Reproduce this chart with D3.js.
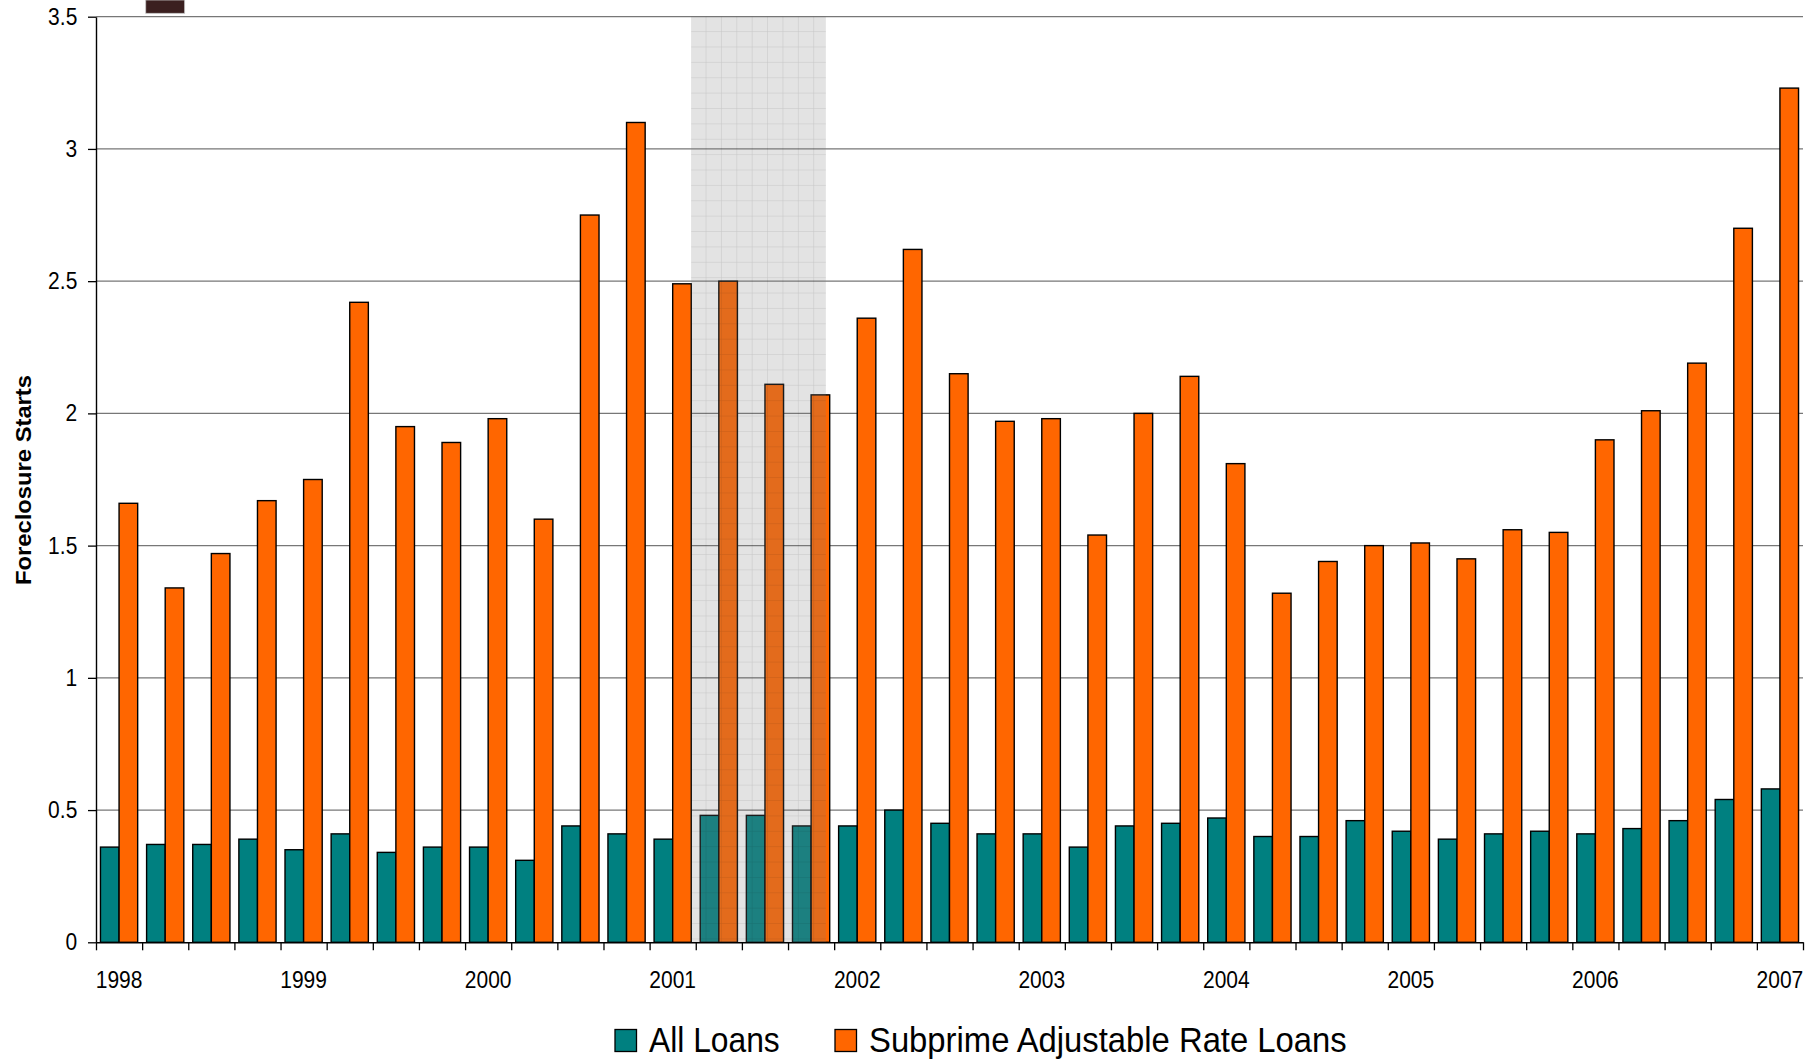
<!DOCTYPE html>
<html>
<head>
<meta charset="utf-8">
<script src="https://cdn.jsdelivr.net/npm/d3@7"></script>
<style>
  html, body { margin: 0; padding: 0; background: #fff; }
  svg { display: block; font-family: "Liberation Sans", Arial, Helvetica, sans-serif; }
</style>
</head>
<body>
<svg id="chart" width="1820" height="1060"></svg>
<script>
// ---- Data: quarterly foreclosure starts (percent of loans) ----
const quarters = [
  "1998Q1","1998Q2","1998Q3","1998Q4",
  "1999Q1","1999Q2","1999Q3","1999Q4",
  "2000Q1","2000Q2","2000Q3","2000Q4",
  "2001Q1","2001Q2","2001Q3","2001Q4",
  "2002Q1","2002Q2","2002Q3","2002Q4",
  "2003Q1","2003Q2","2003Q3","2003Q4",
  "2004Q1","2004Q2","2004Q3","2004Q4",
  "2005Q1","2005Q2","2005Q3","2005Q4",
  "2006Q1","2006Q2","2006Q3","2006Q4",
  "2007Q1"
];

const allLoans = [
  0.36, 0.37, 0.37, 0.39,
  0.35, 0.41, 0.34, 0.36,
  0.36, 0.31, 0.44, 0.41,
  0.39, 0.48, 0.48, 0.44,
  0.44, 0.50, 0.45, 0.41,
  0.41, 0.36, 0.44, 0.45,
  0.47, 0.40, 0.40, 0.46,
  0.42, 0.39, 0.41, 0.42,
  0.41, 0.43, 0.46, 0.54,
  0.58
];

const subprimeARM = [
  1.66, 1.34, 1.47, 1.67,
  1.75, 2.42, 1.95, 1.89,
  1.98, 1.60, 2.75, 3.10,
  2.49, 2.50, 2.11, 2.07,
  2.36, 2.62, 2.15, 1.97,
  1.98, 1.54, 2.00, 2.14,
  1.81, 1.32, 1.44, 1.50,
  1.51, 1.45, 1.56, 1.55,
  1.90, 2.01, 2.19, 2.70,
  3.23
];

const yTicks = [0, 0.5, 1, 1.5, 2, 2.5, 3, 3.5];
const yearLabels = ["1998","1999","2000","2001","2002","2003","2004","2005","2006","2007"];

// Recession span (March–November 2001) in quarter-index units
const recessionStart = 12.9;
const recessionEnd = 15.82;

const seriesNames = ["All Loans", "Subprime Adjustable Rate Loans"];
const seriesColors = ["#008080", "#FF6600"];

// ---- Layout ----
const plot = { left: 96, right: 1803, top: 16.7, bottom: 942.3 };

const svg = d3.select("#chart");
const defs = svg.append("defs");

const x = d3.scaleBand().domain(quarters).range([plot.left, plot.right]).padding(0);
const xq = d3.scaleLinear().domain([0, quarters.length]).range([plot.left, plot.right]);
const xs = d3.scaleBand().domain([0, 1]).range([0, x.bandwidth()]).paddingInner(0).paddingOuter(0.24);
const y = d3.scaleLinear().domain([0, 3.5]).range([plot.bottom, plot.top]);

// vertical stretch for text, anchored at the text's own y
function stretchY(sel, k) {
  sel.each(function () {
    const t = d3.select(this);
    const yy = +t.attr("y") || 0;
    t.attr("transform", `translate(0,${yy}) scale(1,${k}) translate(0,${-yy})`);
  });
}

// ---- Horizontal gridlines ----
svg.append("g")
  .selectAll("line")
  .data(yTicks.filter(d => d > 0))
  .join("line")
  .attr("x1", plot.left)
  .attr("x2", plot.right)
  .attr("y1", d => y(d))
  .attr("y2", d => y(d))
  .attr("stroke", "#777")
  .attr("stroke-width", 1.3);

// ---- Bars ----
const rows = quarters.map((q, i) => ({ q, vals: [allLoans[i], subprimeARM[i]] }));

const groups = svg.append("g")
  .selectAll("g")
  .data(rows)
  .join("g")
  .attr("transform", d => `translate(${x(d.q)},0)`);

groups.selectAll("rect")
  .data(d => d.vals.map((v, k) => ({ v, k })))
  .join("rect")
  .attr("x", d => xs(d.k))
  .attr("width", xs.bandwidth())
  .attr("y", d => y(d.v))
  .attr("height", d => y(0) - y(d.v))
  .attr("fill", d => seriesColors[d.k])
  .attr("stroke", "#000")
  .attr("stroke-width", 1.4);

// ---- Recession shading with fine grid texture ----
const cell = x.bandwidth() / 3;
const pat = defs.append("pattern")
  .attr("id", "recGrid")
  .attr("patternUnits", "userSpaceOnUse")
  .attr("x", xq(recessionStart))
  .attr("y", plot.top)
  .attr("width", cell)
  .attr("height", cell);
pat.append("path")
  .attr("d", `M${cell},0V${cell}M0,${cell}H${cell}`)
  .attr("stroke", "rgba(0,0,0,0.13)")
  .attr("stroke-width", 1)
  .attr("fill", "none");

const recX = xq(recessionStart), recW = xq(recessionEnd) - xq(recessionStart);
svg.append("rect")
  .attr("x", recX).attr("width", recW)
  .attr("y", y(3.5)).attr("height", y(0) - y(3.5))
  .attr("fill", "rgb(128,128,128)")
  .attr("fill-opacity", 0.22);
svg.append("rect")
  .attr("x", recX).attr("width", recW)
  .attr("y", y(3.5)).attr("height", y(0) - y(3.5))
  .attr("fill", "url(#recGrid)");

// ---- Small dark block above the first year ----
svg.append("rect")
  .attr("x", x(quarters[1]) + 3.6)
  .attr("width", x.bandwidth() - 7.2)
  .attr("y", 0)
  .attr("height", plot.top - 3.4)
  .attr("fill", "#3b2020")
  .attr("stroke", "#c8c8c8")
  .attr("stroke-width", 0.8);

// ---- Y axis ----
const yAxis = svg.append("g")
  .attr("transform", `translate(${plot.left},0)`)
  .call(d3.axisLeft(y).tickValues(yTicks).tickSize(8).tickSizeOuter(0).tickPadding(10.7)
        .tickFormat(d3.format("~g")));
yAxis.select(".domain").attr("stroke", "#000").attr("stroke-width", 1.4);
yAxis.selectAll(".tick line").attr("stroke", "#000").attr("stroke-width", 1.3);
yAxis.selectAll("text")
  .attr("font-size", 21)
  .attr("fill", "#000")
  .attr("font-family", '"Liberation Sans", Arial, sans-serif')
  .call(stretchY, 1.1);

// ---- X axis: quarter boundary ticks ----
const xAxis = svg.append("g")
  .attr("transform", `translate(0,${plot.bottom})`)
  .call(d3.axisBottom(xq).tickValues(d3.range(0, quarters.length + 1)).tickSize(8).tickSizeOuter(0).tickFormat(""));
xAxis.select(".domain").attr("stroke", "#000").attr("stroke-width", 1.4);
xAxis.selectAll(".tick line").attr("stroke", "#000").attr("stroke-width", 1.3);

// ---- X axis: year labels on first quarters ----
const firstQuarters = quarters.filter(q => q.endsWith("Q1"));
const yearAxis = svg.append("g")
  .attr("transform", `translate(0,${plot.bottom})`)
  .call(d3.axisBottom(x).tickValues(firstQuarters).tickSize(0).tickPadding(29.4)
        .tickFormat((d, i) => yearLabels[i]));
yearAxis.select(".domain").remove();
yearAxis.selectAll("text")
  .attr("font-size", 21)
  .attr("fill", "#000")
  .attr("font-family", '"Liberation Sans", Arial, sans-serif')
  .call(stretchY, 1.1);

// ---- Y axis title ----
svg.append("text")
  .attr("transform", `translate(31,${(375 + 585) / 2}) rotate(-90)`)
  .attr("text-anchor", "middle")
  .attr("font-size", 22)
  .attr("font-weight", "bold")
  .attr("fill", "#000")
  .attr("textLength", 210)
  .attr("lengthAdjust", "spacingAndGlyphs")
  .text("Foreclosure Starts");

// ---- Legend ----
const legendItems = [
  { name: seriesNames[0], color: seriesColors[0], x: 615, len: 130.7 },
  { name: seriesNames[1], color: seriesColors[1], x: 835, len: 477.7 }
];
const legend = svg.append("g");
const li = legend.selectAll("g").data(legendItems).join("g")
  .attr("transform", d => `translate(${d.x},0)`);
li.append("rect")
  .attr("x", 0).attr("y", 1029.5)
  .attr("width", 21.5).attr("height", 22)
  .attr("fill", d => d.color)
  .attr("stroke", "#000")
  .attr("stroke-width", 1.3);
li.append("text")
  .attr("x", 34).attr("y", 1052)
  .attr("font-size", 35)
  .attr("fill", "#000")
  .attr("textLength", d => d.len)
  .attr("lengthAdjust", "spacingAndGlyphs")
  .text(d => d.name);
</script>
</body>
</html>
